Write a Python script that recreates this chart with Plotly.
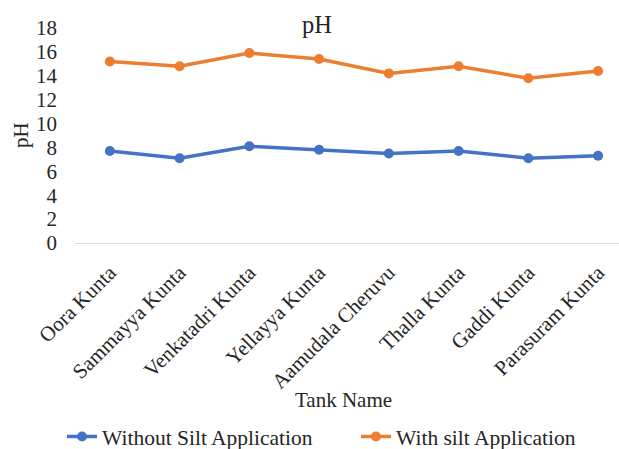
import plotly.graph_objects as go

tanks = ["Oora Kunta", "Sammayya Kunta", "Venkatadri Kunta", "Yellayya Kunta",
         "Aamudala Cheruvu", "Thalla Kunta", "Gaddi Kunta", "Parasuram Kunta"]
without_silt = [7.7, 7.1, 8.1, 7.8, 7.5, 7.7, 7.1, 7.3]
with_silt = [15.2, 14.8, 15.9, 15.4, 14.2, 14.8, 13.8, 14.4]
y_ticks = [0, 2, 4, 6, 8, 10, 12, 14, 16, 18]

FONT = "Liberation Serif"
BLUE = "#4472C4"
ORANGE = "#ED7D31"
TEXT = "#262626"

fig = go.Figure()
fig.add_trace(go.Scatter(
    x=tanks, y=without_silt, name="Without Silt Application",
    mode="lines+markers", legend="legend",
    line=dict(color=BLUE, width=3.5),
    marker=dict(color=BLUE, size=10),
))
fig.add_trace(go.Scatter(
    x=tanks, y=with_silt, name="With silt Application",
    mode="lines+markers", legend="legend2",
    line=dict(color=ORANGE, width=3.5),
    marker=dict(color=ORANGE, size=10),
))

legend_common = dict(orientation="h", xref="container", xanchor="left",
                     y=33 / 449, yref="container", yanchor="top",
                     font=dict(family=FONT, size=21.5, color=TEXT),
                     itemwidth=30, bgcolor="rgba(0,0,0,0)")

fig.update_layout(
    width=619, height=449,
    margin=dict(l=75, r=0, t=28, b=206),
    paper_bgcolor="white", plot_bgcolor="white",
    font=dict(family=FONT, size=21, color=TEXT),
    showlegend=True,
    legend=dict(x=62 / 619, **legend_common),
    legend2=dict(x=356 / 619, **legend_common),
    xaxis=dict(
        type="category", range=[-0.5, 7.3], automargin=False,
        tickangle=-45, showgrid=False,
        showline=True, linecolor="#D9D9D9", linewidth=1,
        ticks="", ticklabelstandoff=8,
        tickfont=dict(family=FONT, size=21, color=TEXT),
    ),
    yaxis=dict(
        range=[0, 18], tickvals=y_ticks, showgrid=False, automargin=False,
        zeroline=False, showline=False, ticks="", ticklabelstandoff=17,
        tickfont=dict(family=FONT, size=21, color=TEXT),
    ),
    annotations=[
        dict(text="pH", xref="paper", yref="paper", x=(317 - 75) / 544, y=(243 - 24) / 215,
             xanchor="center", yanchor="middle", showarrow=False,
             font=dict(family=FONT, size=24.5, color=TEXT)),
        dict(text="pH", xref="paper", yref="paper", x=-54 / 544, y=(243 - 135) / 215,
             xanchor="center", yanchor="middle", textangle=-90, showarrow=False,
             font=dict(family=FONT, size=21, color=TEXT)),
        dict(text="Tank Name", xref="paper", yref="paper", x=(343 - 75) / 544,
             y=-(400 - 243) / 215, xanchor="center", yanchor="middle",
             showarrow=False, font=dict(family=FONT, size=21, color=TEXT)),
    ],
)

fig.write_html("out.html")
